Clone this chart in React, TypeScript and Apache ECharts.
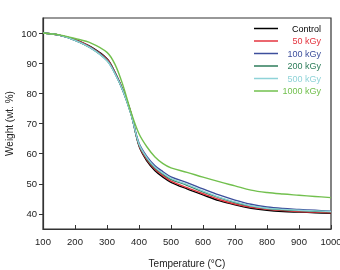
import React, { useEffect, useRef } from "react";
import * as echarts from "echarts";

const temps = [100, 150, 200, 250, 300, 325, 350, 375, 400, 425, 450, 475, 500, 550, 600, 650, 700, 750, 800, 850, 900, 950, 1000];

const control = [100, 99.3, 97.8, 95.4, 91.5, 87.0, 81.0, 73.5, 62.5, 57.5, 54.3, 52.2, 50.5, 48.3, 46.3, 44.4, 43.0, 41.9, 41.2, 40.8, 40.6, 40.4, 40.2];
const kgy50 = [100, 99.3, 97.8, 95.3, 91.3, 86.9, 81.0, 73.4, 62.8, 57.9, 54.8, 52.7, 50.9, 48.7, 46.7, 44.8, 43.3, 42.2, 41.5, 41.1, 40.8, 40.6, 40.4];
const kgy100 = [100, 99.3, 97.6, 95.1, 91.0, 86.7, 80.9, 73.2, 63.5, 59.0, 56.0, 54.0, 52.3, 50.4, 48.3, 46.3, 44.6, 43.2, 42.3, 41.8, 41.5, 41.2, 40.9];
const kgy200 = [100, 99.3, 97.6, 95.0, 90.9, 86.6, 80.8, 73.1, 63.0, 58.3, 55.2, 53.2, 51.5, 49.5, 47.3, 45.4, 43.8, 42.6, 41.8, 41.4, 41.1, 40.9, 40.7];
const kgy500 = [100, 99.3, 97.6, 95.0, 90.8, 86.5, 80.8, 73.1, 63.2, 58.6, 55.5, 53.5, 51.8, 49.8, 47.6, 45.6, 44.0, 42.7, 41.9, 41.5, 41.2, 41.0, 40.8];
const kgy1000 = [100, 99.4, 98.2, 96.7, 93.6, 89.6, 82.6, 73.8, 66.6, 62.2, 58.9, 56.7, 55.3, 53.8, 52.2, 50.7, 49.3, 47.9, 47.1, 46.6, 46.2, 45.8, 45.4];

const seriesNames = ["Control", "50 kGy", "100 kGy", "200 kGy", "500 kGy", "1000 kGy"];
const seriesColors = ["#000000", "#e4343f", "#3d4f9c", "#2e7d5b", "#8fd3d8", "#72c04e"];
const seriesValues = [control, kgy50, kgy100, kgy200, kgy500, kgy1000];

const yTicks = [40, 50, 60, 70, 80, 90, 100];

const FONT = "Arial, 'Liberation Sans', Helvetica, sans-serif";

export default function App() {
  const ref = useRef<HTMLDivElement>(null);
  useEffect(() => {
    if (!ref.current) return;
    const chart = echarts.init(ref.current, undefined, { renderer: "svg" });
    const axisColor = "#333333";
    chart.setOption({
      animation: false,
      textStyle: { fontFamily: FONT },
      grid: {
        left: 43,
        right: 9,
        top: 18,
        bottom: 41,
        show: true,
        borderColor: axisColor,
        borderWidth: 1.2,
        outerBoundsMode: "none",
        containLabel: false,
      },
      legend: {
        orient: "vertical",
        left: 249,
        top: 19,
        icon: "rect",
        itemWidth: 24,
        itemHeight: 1.5,
        itemGap: 3.5,
        data: seriesNames.map((n, i) => ({ name: n, textStyle: { color: seriesColors[i] } })),
        formatter: (name: string) => `{a|${name}}`,
        textStyle: {
          fontFamily: FONT,
          fontSize: 9,
          rich: {
            a: { width: 38, align: "right", fontSize: 9, lineHeight: 10, fontFamily: FONT },
          },
        },
      },
      xAxis: {
        type: "value",
        min: 100,
        max: 1000,
        interval: 100,
        name: "Temperature (°C)",
        nameLocation: "middle",
        nameGap: 29,
        nameMoveOverlap: false,
        nameTextStyle: { fontSize: 10, color: "#222", fontFamily: FONT },
        axisLine: { show: true, lineStyle: { color: axisColor, width: 1.2 } },
        axisTick: { show: true, inside: true, length: 4, lineStyle: { color: axisColor } },
        axisLabel: { fontSize: 9.5, color: "#222", margin: 7, fontFamily: FONT, formatter: (v: number) => String(v) },
        splitLine: { show: false },
      },
      yAxis: {
        type: "value",
        min: 35,
        max: 105,
        name: "Weight (wt. %)",
        nameLocation: "middle",
        nameGap: 29,
        nameMoveOverlap: false,
        nameTextStyle: { fontSize: 10, color: "#222", fontFamily: FONT },
        axisLine: { show: true, lineStyle: { color: axisColor, width: 1.2 } },
        axisTick: { show: true, inside: false, length: 4, customValues: yTicks, lineStyle: { color: axisColor } },
        axisLabel: { fontSize: 9.5, color: "#222", margin: 6, customValues: yTicks, fontFamily: FONT, formatter: (v: number) => String(v) },
        splitLine: { show: false },
      },
      series: seriesNames.map((n, i) => ({
        name: n,
        type: "line",
        smooth: 0.35,
        symbol: "none",
        data: temps.map((t, j) => [t, seriesValues[i][j]]),
        lineStyle: { color: seriesColors[i], width: 1.4 },
        itemStyle: { color: seriesColors[i] },
        z: i === 0 ? 1 : 2 + i,
      })),
    });
    return () => chart.dispose();
  }, []);
  return <div ref={ref} style={{ position: "fixed", left: 0, top: 0, width: 340, height: 270 }} />;
}
